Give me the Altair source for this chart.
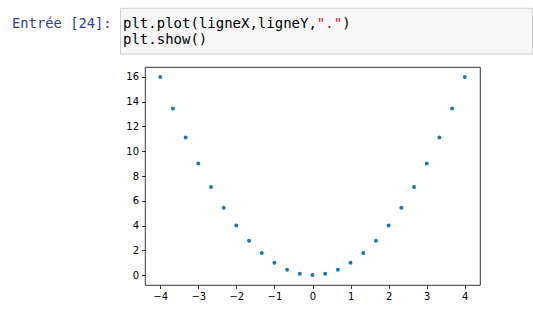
import altair as alt
import pandas as pd

# Data (y = values shown)
ligneX = [-4.0, -3.667, -3.333, -3.0, -2.667, -2.333, -2.0, -1.667, -1.333, -1.0, -0.667, -0.333,
          0.0, 0.333, 0.667, 1.0, 1.333, 1.667, 2.0, 2.333, 2.667, 3.0, 3.333, 3.667, 4.0]
ligneY = [16.0, 13.44, 11.11, 9.0, 7.11, 5.44, 4.0, 2.78, 1.78, 1.0, 0.44, 0.11,
          0.0, 0.11, 0.44, 1.0, 1.78, 2.78, 4.0, 5.44, 7.11, 9.0, 11.11, 13.44, 16.0]
x_ticks = [-4, -3, -2, -1, 0, 1, 2, 3, 4]
y_ticks = [0, 2, 4, 6, 8, 10, 12, 14, 16]

prompt_text = ["Entrée [24]:"]
code_seg1 = ["plt.plot(ligneX,ligneY,"]
code_seg2 = ['"."']
code_seg3 = [")"]
code_line2 = ["plt.show()"]

df = pd.DataFrame({"x": ligneX, "y": ligneY})

points = alt.Chart(df).mark_circle(size=16, color="#1f77b4", opacity=1).encode(
    x=alt.X("x:Q", scale=alt.Scale(domain=[-4.4, 4.4], nice=False, zero=False),
            axis=alt.Axis(values=x_ticks, title=None, format="~r")),
    y=alt.Y("y:Q", scale=alt.Scale(domain=[-0.8, 16.8], nice=False, zero=False),
            axis=alt.Axis(values=y_ticks, title=None, format="~r")),
)

one = pd.DataFrame({"a": [0]})
box = alt.Chart(one).mark_rect(fill="#f7f7f7", stroke="#cfcfcf", strokeWidth=1).encode(
    x=alt.value(-24.5), x2=alt.value(387.5), y=alt.value(-58.7), y2=alt.value(-13)
)

mono = "DejaVu Sans Mono"
fs = 14
cw = fs * 0.602

def txt(vals, x, y, color, size=fs):
    return alt.Chart(pd.DataFrame({"t": vals})).mark_text(
        font=mono, fontSize=size, color=color, align="left", baseline="alphabetic"
    ).encode(x=alt.value(x), y=alt.value(y), text="t:N")

x0 = -22
prompt = txt(prompt_text, -133, -39.3, "#303F9F", size=13.8)
c1 = txt(code_seg1, x0, -39.5, "#000000")
c2 = txt(code_seg2, x0 + 23 * cw, -39.5, "#BA2121")
c3 = txt(code_seg3, x0 + 26 * cw, -39.5, "#000000")
c4 = txt(code_line2, x0, -23.5, "#000000")

chart = alt.layer(box, prompt, c1, c2, c3, c4, points).properties(
    width=335, height=218,
    padding={"left": 145, "top": 67, "right": 53, "bottom": 32},
    autosize=alt.AutoSizeParams(type="none"),
    background="white",
).configure_view(
    stroke="#000000", strokeWidth=0.8
).configure_axis(
    grid=False, domain=False, tickColor="#000000", tickSize=3.5, tickWidth=0.8,
    labelFont="DejaVu Sans", labelFontSize=10, labelColor="#000000", labelPadding=3
)

chart.save("out.html", embed_options={"renderer": "svg", "actions": False})
